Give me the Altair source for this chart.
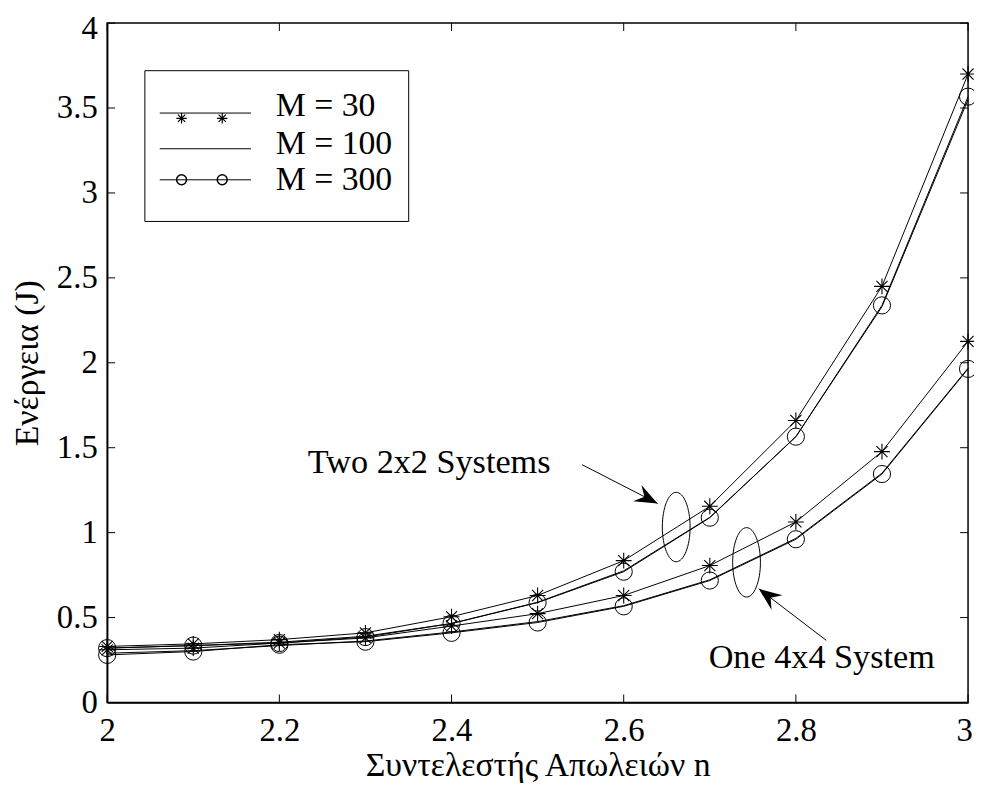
import altair as alt
import pandas as pd

# ---------------- data ----------------
n_values = [2.0, 2.1, 2.2, 2.3, 2.4, 2.5, 2.6, 2.7, 2.8, 2.9, 3.0]

two_m30 = [0.33, 0.345, 0.37, 0.41, 0.505, 0.63, 0.835, 1.155, 1.66, 2.45, 3.70]
two_m100 = [0.32, 0.335, 0.355, 0.39, 0.465, 0.59, 0.775, 1.09, 1.565, 2.33, 3.55]
two_m300 = [0.32, 0.335, 0.35, 0.385, 0.465, 0.588, 0.77, 1.088, 1.565, 2.338, 3.567]

one_m30 = [0.31, 0.32, 0.35, 0.38, 0.45, 0.523, 0.63, 0.806, 1.063, 1.477, 2.126]
one_m100 = [0.29, 0.305, 0.335, 0.362, 0.415, 0.476, 0.57, 0.722, 0.966, 1.35, 1.968]
one_m300 = [0.28, 0.30, 0.34, 0.358, 0.41, 0.471, 0.566, 0.718, 0.961, 1.345, 1.964]

systems = ["Two 2x2 Systems", "One 4x4 System"]
m_labels = ["M = 30", "M = 100", "M = 300"]
series_values = {
    ("Two 2x2 Systems", "M = 30"): two_m30,
    ("Two 2x2 Systems", "M = 100"): two_m100,
    ("Two 2x2 Systems", "M = 300"): two_m300,
    ("One 4x4 System", "M = 30"): one_m30,
    ("One 4x4 System", "M = 100"): one_m100,
    ("One 4x4 System", "M = 300"): one_m300,
}

x_ticks = [2.0, 2.2, 2.4, 2.6, 2.8, 3.0]
y_ticks = [0, 0.5, 1, 1.5, 2, 2.5, 3, 3.5, 4]

x_title = "Συντελεστής Απωλειών n"
y_title = "Ενέργεια (J)"

# annotation anchors (data coordinates)
ann_text_n = [2.374, 2.83]
ann_text_e = [1.353, 0.202]
ann_ellipse_n = [2.661, 2.7427]
ann_ellipse_e = [1.033, 0.825]
arrow_tail_n = [2.5518, 2.8353]
arrow_tail_e = [1.3995, 0.3657]
arrow_head_n = [2.6394, 2.7569]
arrow_head_e = [1.1717, 0.6694]

rows = []
for (sysname, m), vals in series_values.items():
    for n, e in zip(n_values, vals):
        rows.append({"n": n, "energy": e, "system": sysname, "M": m,
                     "series": sysname + " " + m})
df = pd.DataFrame(rows)

# ---------------- styling ----------------
FONT = "'Liberation Serif', 'Times New Roman', Times, 'DejaVu Serif', serif"
W, H = 868, 685
TICK = 8

def xenc(field):
    return alt.X(f"{field}:Q",
                 scale=alt.Scale(domain=[2, 3], nice=False, zero=False),
                 axis=alt.Axis(title=x_title, values=x_ticks, format="~g",
                               ticks=False, grid=False, labelFlush=False,
                               labelPadding=12, titlePadding=2,
                               labelOffset=alt.ExprRef("datum.value == 3 ? -4 : 0"),
                               domainColor="black", domainWidth=1.5))

def yenc(field):
    return alt.Y(f"{field}:Q",
                 scale=alt.Scale(domain=[0, 4], nice=False, zero=False),
                 axis=alt.Axis(title=y_title, values=y_ticks, format="~g",
                               ticks=False, grid=False, labelFlush=False,
                               labelPadding=10, titlePadding=12,
                               labelOffset=alt.ExprRef("datum.value == 4 ? 6 : 0"),
                               domainColor="black", domainWidth=1.5))

STAR = "M -1 0 L 1 0 M 0 -1 L 0 1 M -0.7 -0.7 L 0.7 0.7 M -0.7 0.7 L 0.7 -0.7"
ELLIPSE = ("M 0 -1 C 0.2209 -1 0.4 -0.5523 0.4 0 C 0.4 0.5523 0.2209 1 0 1 "
           "C -0.2209 1 -0.4 0.5523 -0.4 0 C -0.4 -0.5523 -0.2209 -1 0 -1 Z")
ARROWHEAD = "M 0 0 L 0.8 2 L 0 1.3 L -0.8 2 Z"

base = alt.Chart(df)

lines = base.mark_line(color="black", strokeWidth=1).encode(
    x=xenc("n"), y=yenc("energy"), detail="series:N")

stars = base.transform_filter(alt.datum.M == "M = 30").mark_point(
    shape=STAR, filled=False, color="black", strokeWidth=1.1, size=256, opacity=1
).encode(x=xenc("n"), y=yenc("energy"))

circles = base.transform_filter(alt.datum.M == "M = 300").mark_point(
    shape="circle", filled=False, color="black", strokeWidth=1, size=300, opacity=1
).encode(x=xenc("n"), y=yenc("energy"))

# inward ticks on all four sides
xt = alt.Chart(pd.DataFrame({"t": x_ticks}))
yt = alt.Chart(pd.DataFrame({"t": y_ticks}))
tick_style = dict(color="black", strokeWidth=1)
ticks_bottom = xt.mark_rule(**tick_style).encode(
    x=xenc("t"), y=alt.value(H), y2=alt.value(H - TICK))
ticks_top = xt.mark_rule(**tick_style).encode(
    x=xenc("t"), y=alt.value(0), y2=alt.value(TICK))
ticks_left = yt.mark_rule(**tick_style).encode(
    y=yenc("t"), x=alt.value(0), x2=alt.value(TICK))
ticks_right = yt.mark_rule(**tick_style).encode(
    y=yenc("t"), x=alt.value(W), x2=alt.value(W - TICK))

# annotations
ann_df = pd.DataFrame({
    "label": systems, "tn": ann_text_n, "te": ann_text_e,
    "en": ann_ellipse_n, "ee": ann_ellipse_e,
    "an": arrow_tail_n, "ae": arrow_tail_e,
    "hn": arrow_head_n, "he": arrow_head_e,
})
ann = alt.Chart(ann_df)
ann_text = ann.mark_text(font=FONT, fontSize=34.5, align="center",
                         baseline="alphabetic", color="black").encode(
    x=xenc("tn"), y=yenc("te"), text="label:N")
ellipses = ann.mark_point(shape=ELLIPSE, filled=False, color="black",
                          strokeWidth=1, size=4900, opacity=1).encode(
    x=xenc("en"), y=yenc("ee"))
arrow_lines = ann.mark_rule(color="black", strokeWidth=1).encode(
    x=xenc("an"), y=yenc("ae"), x2="hn:Q", y2="he:Q")
head1 = ann.transform_filter(alt.datum.label == systems[0]).mark_point(
    shape=ARROWHEAD, filled=True, color="black", size=529, opacity=1, angle=117
).encode(x=xenc("hn"), y=yenc("he"))
head2 = ann.transform_filter(alt.datum.label == systems[1]).mark_point(
    shape=ARROWHEAD, filled=True, color="black", size=529, opacity=1, angle=307
).encode(x=xenc("hn"), y=yenc("he"))

# legend (pixel positions inside the plot area)
leg_box = alt.Chart(pd.DataFrame({"k": [0]})).mark_rect(
    fill="white", stroke="black", strokeWidth=1).encode(
    x=alt.value(38), x2=alt.value(304), y=alt.value(48), y2=alt.value(200))
leg_df = pd.DataFrame({
    "label": m_labels,
    "ly": [90.7, 126.7, 158.0],
    "ty": [93.3, 131.7, 168.3],
})
leg = alt.Chart(leg_df)
leg_lines = leg.mark_rule(color="black", strokeWidth=1).encode(
    x=alt.value(53), x2=alt.value(145), y=alt.Y("ly:Q", scale=None))
leg_text = leg.mark_text(font=FONT, fontSize=34, align="left",
                         baseline="alphabetic", color="black").encode(
    x=alt.value(170), y=alt.Y("ty:Q", scale=None), text="label:N")
leg_mk = pd.DataFrame({"mx": [75, 116, 75, 116],
                       "my": [96, 96, 158, 158],
                       "kind": ["star", "star", "circle", "circle"]})
legm = alt.Chart(leg_mk)
leg_stars = legm.transform_filter(alt.datum.kind == "star").mark_point(
    shape=STAR, filled=False, color="black", strokeWidth=1.2, size=110, opacity=1
).encode(x=alt.X("mx:Q", scale=None), y=alt.Y("my:Q", scale=None))
leg_circles = legm.transform_filter(alt.datum.kind == "circle").mark_point(
    shape="circle", filled=False, color="black", strokeWidth=1.5, size=100, opacity=1
).encode(x=alt.X("mx:Q", scale=None), y=alt.Y("my:Q", scale=None))

chart = alt.layer(
    lines, stars, circles,
    ticks_bottom, ticks_top, ticks_left, ticks_right,
    ellipses, arrow_lines, head1, head2, ann_text,
    leg_box, leg_lines, leg_stars, leg_circles, leg_text,
).properties(
    width=W, height=H,
    autosize=alt.AutoSizeParams(type="none"),
    padding={"left": 100, "top": 12, "right": 6, "bottom": 81},
    background="white",
).configure_view(
    stroke="black", strokeWidth=1.5
).configure_axis(
    labelFont=FONT, titleFont=FONT, labelFontSize=33, titleFontSize=34,
    labelColor="black", titleColor="black", titleFontWeight="normal",
)

chart.save("out.html", embed_options={"renderer": "svg", "actions": False})
